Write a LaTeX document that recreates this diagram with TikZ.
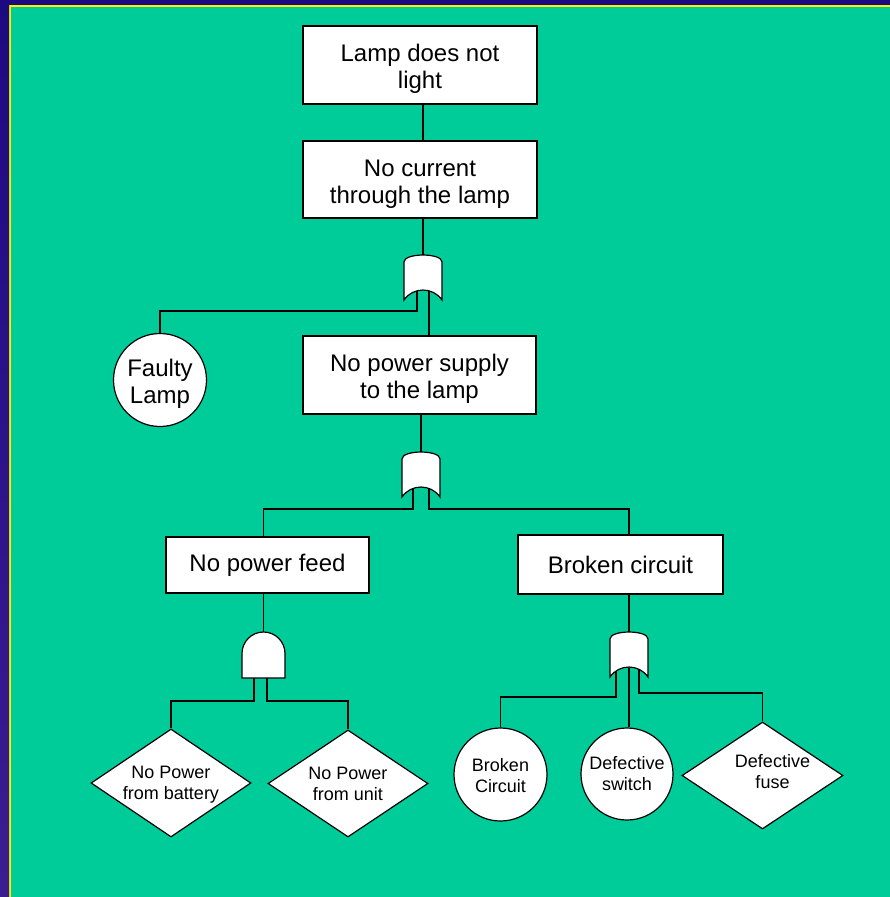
\documentclass[tikz,border=0pt]{standalone}
\usepackage{fontspec}
\setmainfont{Liberation Sans}
\usetikzlibrary{shapes.geometric}

\definecolor{slidegreen}{RGB}{0,204,153}
\definecolor{slideblue}{RGB}{30,10,128}
\definecolor{slidepurple}{RGB}{60,28,145}
\definecolor{slideyellow}{RGB}{255,240,0}

\newcommand{\sunk}[2][5pt]{\raisebox{-#1}[\height][\depth]{\begin{tabular}{@{}c@{}}#2\end{tabular}}}

\tikzset{
  event/.style={draw, fill=white, line width=1.2pt, rectangle, align=center, inner sep=0pt, font=\fontsize{24}{27}\selectfont},
  basic/.style={draw, fill=white, line width=1.2pt, circle, align=center, inner sep=0pt},
  undev/.style={draw, fill=white, line width=1.2pt, diamond, inner sep=0pt, minimum width=160, minimum height=107},
  wire/.style={line width=1.2pt},
  orgate/.pic={\draw[line width=1.2pt, fill=white] (-19,7) .. controls (-19,-2.3) and (19,-2.3) .. (19,7) -- (19,45) .. controls (10,31.7) and (-10,31.7) .. (-19,45) -- cycle;},
  andgate/.pic={\draw[line width=1.2pt, fill=white] (-21.5,46) -- (-21.5,21.5) .. controls (-21.5,9.63) and (-11.87,0) .. (0,0) .. controls (11.87,0) and (21.5,9.63) .. (21.5,21.5) -- (21.5,46) -- cycle;}
}

\begin{document}
\begin{tikzpicture}[x=1pt, y=-1pt]
    \useasboundingbox (0,0) rectangle (890,897);
    \fill[slidegreen] (0,0) rectangle (890,897);
    \fill[slideyellow] (0,0) rectangle (890,7);
    \fill[slideyellow] (0,0) rectangle (11,897);
    \fill[slideblue] (0,0) rectangle (890,5);
    \shade[top color=slideblue, bottom color=slidepurple] (0,0) rectangle (9,897);

    \node[event, minimum width=234, minimum height=78] (top) at (420,65) {\sunk{Lamp does not\\light}};
    \node[event, minimum width=234, minimum height=77] (current) at (420,179.5) {\sunk{No current\\through the lamp}};
    \node[event, minimum width=233, minimum height=78] (supply) at (419.5,375) {\sunk{No power supply\\to the lamp}};
    \node[event, minimum width=203, minimum height=56] (feed) at (267.5,565) {No power feed};
    \node[event, minimum width=205, minimum height=59] (broken) at (620.5,564.5) {Broken circuit};

    \node[basic, minimum size=93, font=\fontsize{24}{27}\selectfont] (faulty) at (160,380) {\sunk{Faulty\\Lamp}};
    \node[basic, minimum size=93, font=\fontsize{18}{21}\selectfont] (bcirc) at (500.5,774.5) {\sunk[3pt]{Broken\\Circuit}};
    \node[basic, minimum size=92, font=\fontsize{18}{21}\selectfont] (switch) at (627,774) {\sunk[2pt]{Defective\\switch}};

    \node[undev, minimum height=108, label={[align=center, font=\fontsize{18}{21}\selectfont, yshift=-2pt]center:No Power\\from battery}] (battery) at (171,783) {};
    \node[undev, label={[align=center, font=\fontsize{18}{21}\selectfont]center:No Power\\from unit}] (unit) at (348,783.5) {};
    \node[undev, minimum width=161, label={[align=center, font=\fontsize{18}{21}\selectfont, xshift=10pt, yshift=4pt]center:Defective\\fuse}] (fuse) at (762.5,775.5) {};

    \coordinate (g1) at (423,255);
    \coordinate (g2) at (421,452);
    \coordinate (g3) at (629,632);
    \coordinate (g4) at (263.5,632);
    \coordinate (g1l) at (417,290);
    \coordinate (g1r) at (429,290);
    \coordinate (g2l) at (413,488);
    \coordinate (g2r) at (429,488);
    \coordinate (g3l) at (616,668);
    \coordinate (g3m) at (629,668);
    \coordinate (g3r) at (639,668);
    \coordinate (g4l) at (254,676);
    \coordinate (g4r) at (267,676);

    \draw[wire] (top.south -| g1) -- (current.north -| g1);
    \draw[wire] (current.south -| g1) -- (g1);
    \draw[wire] (g1l) -- ++(0,21) -| (faulty.north);
    \draw[wire] (g1r) -- (g1r |- supply.north);
    \draw[wire] (supply.south -| g2) -- (g2);
    \draw[wire] (g2l) -- ++(0,21) -| (feed.north -| g4);
    \draw[wire] (g2r) -- ++(0,21) -| (broken.north -| g3m);
    \draw[wire] (feed.south -| g4) -- (g4);
    \draw[wire] (broken.south -| g3) -- (g3);
    \draw[wire] (g4l) -- ++(0,25) -| (battery.north);
    \draw[wire] (g4r) -- ++(0,25) -| (unit.north);
    \draw[wire] (g3l) -- ++(0,29) -| (bcirc.north);
    \draw[wire] (g3m) -- (g3m |- switch.north);
    \draw[wire] (g3r) -- ++(0,25) -| (fuse.north);

    \pic at (g1) {orgate};
    \pic at (g2) {orgate};
    \pic at (g3) {orgate};
    \pic at (g4) {andgate};
\end{tikzpicture}
\end{document}
